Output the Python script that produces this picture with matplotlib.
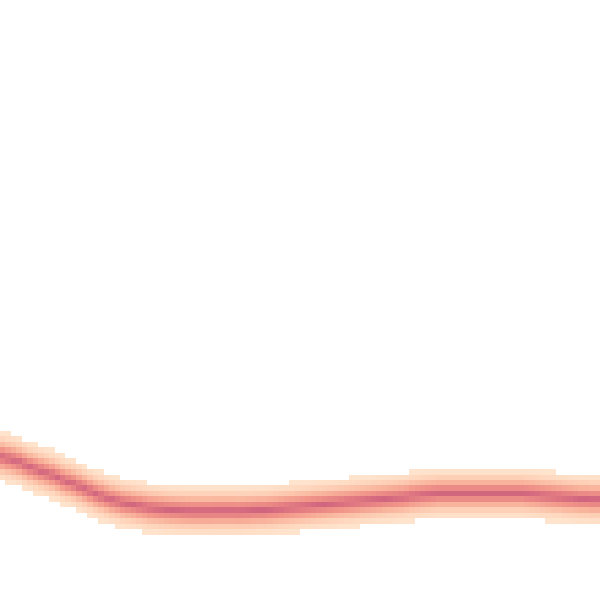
import numpy as np
import matplotlib
matplotlib.use("Agg")
import matplotlib.pyplot as plt
from matplotlib.colors import LinearSegmentedColormap

# --- data: centre of the band, one value per column (row units from bottom) ---
band_center = [
    26.22, 25.94, 25.67, 25.30, 24.84, 24.38, 24.02, 23.65, 23.28, 22.92,
    22.46, 22.00, 21.63, 21.27, 20.81, 20.35, 19.89, 19.43, 19.07, 18.70,
    18.33, 18.06, 17.78, 17.60, 17.42, 17.23, 17.05, 16.87, 16.77, 16.68,
    16.59, 16.50, 16.45, 16.40, 16.35, 16.32, 16.32, 16.32, 16.32, 16.35,
    16.35, 16.35, 16.35, 16.32, 16.35, 16.40, 16.45, 16.50, 16.50, 16.59,
    16.68, 16.77, 16.87, 16.96, 17.05, 17.14, 17.23, 17.33, 17.42, 17.51,
    17.60, 17.69, 17.78, 17.88, 17.97, 18.06, 18.15, 18.24, 18.33, 18.43,
    18.52, 18.61, 18.70, 18.79, 18.88, 19.07, 19.16, 19.25, 19.34, 19.43,
    19.53, 19.53, 19.53, 19.53, 19.53, 19.53, 19.53, 19.53, 19.53, 19.53,
    19.53, 19.53, 19.53, 19.53, 19.53, 19.53, 19.43, 19.34, 19.25, 19.16,
    19.07, 18.97, 18.88, 18.79, 18.70, 18.61, 18.52, 18.52, 18.43, 18.43,
]
n_cols = 110
n_rows = 110
half_width = 4.6  # rows on each side of the centre that get any colour

colors = ["#ffe4cd", "#fdcfb5", "#f9b39c", "#f19489", "#e27c82", "#d0657f"]
cmap = LinearSegmentedColormap.from_list("band", colors)
cmap.set_bad("white")

# --- build the grid ---
centers = np.array(band_center)
rows = np.arange(n_rows) + 0.5
dist = np.abs(rows[:, None] - centers[None, :])
grid = 1 - dist / half_width
grid = np.ma.masked_less_equal(grid, 0) ** 1.6

fig = plt.figure(figsize=(6, 6), dpi=100)
ax = fig.add_axes([0, 0, 1, 1])
ax.pcolormesh(np.arange(n_cols + 1), np.arange(n_rows + 1), grid,
              cmap=cmap, vmin=0, vmax=1, shading="flat", edgecolors="none")
ax.set_xlim(0, n_cols)
ax.set_ylim(0, n_rows)
ax.axis("off")

fig.savefig("out.png", dpi=100, facecolor="white")
